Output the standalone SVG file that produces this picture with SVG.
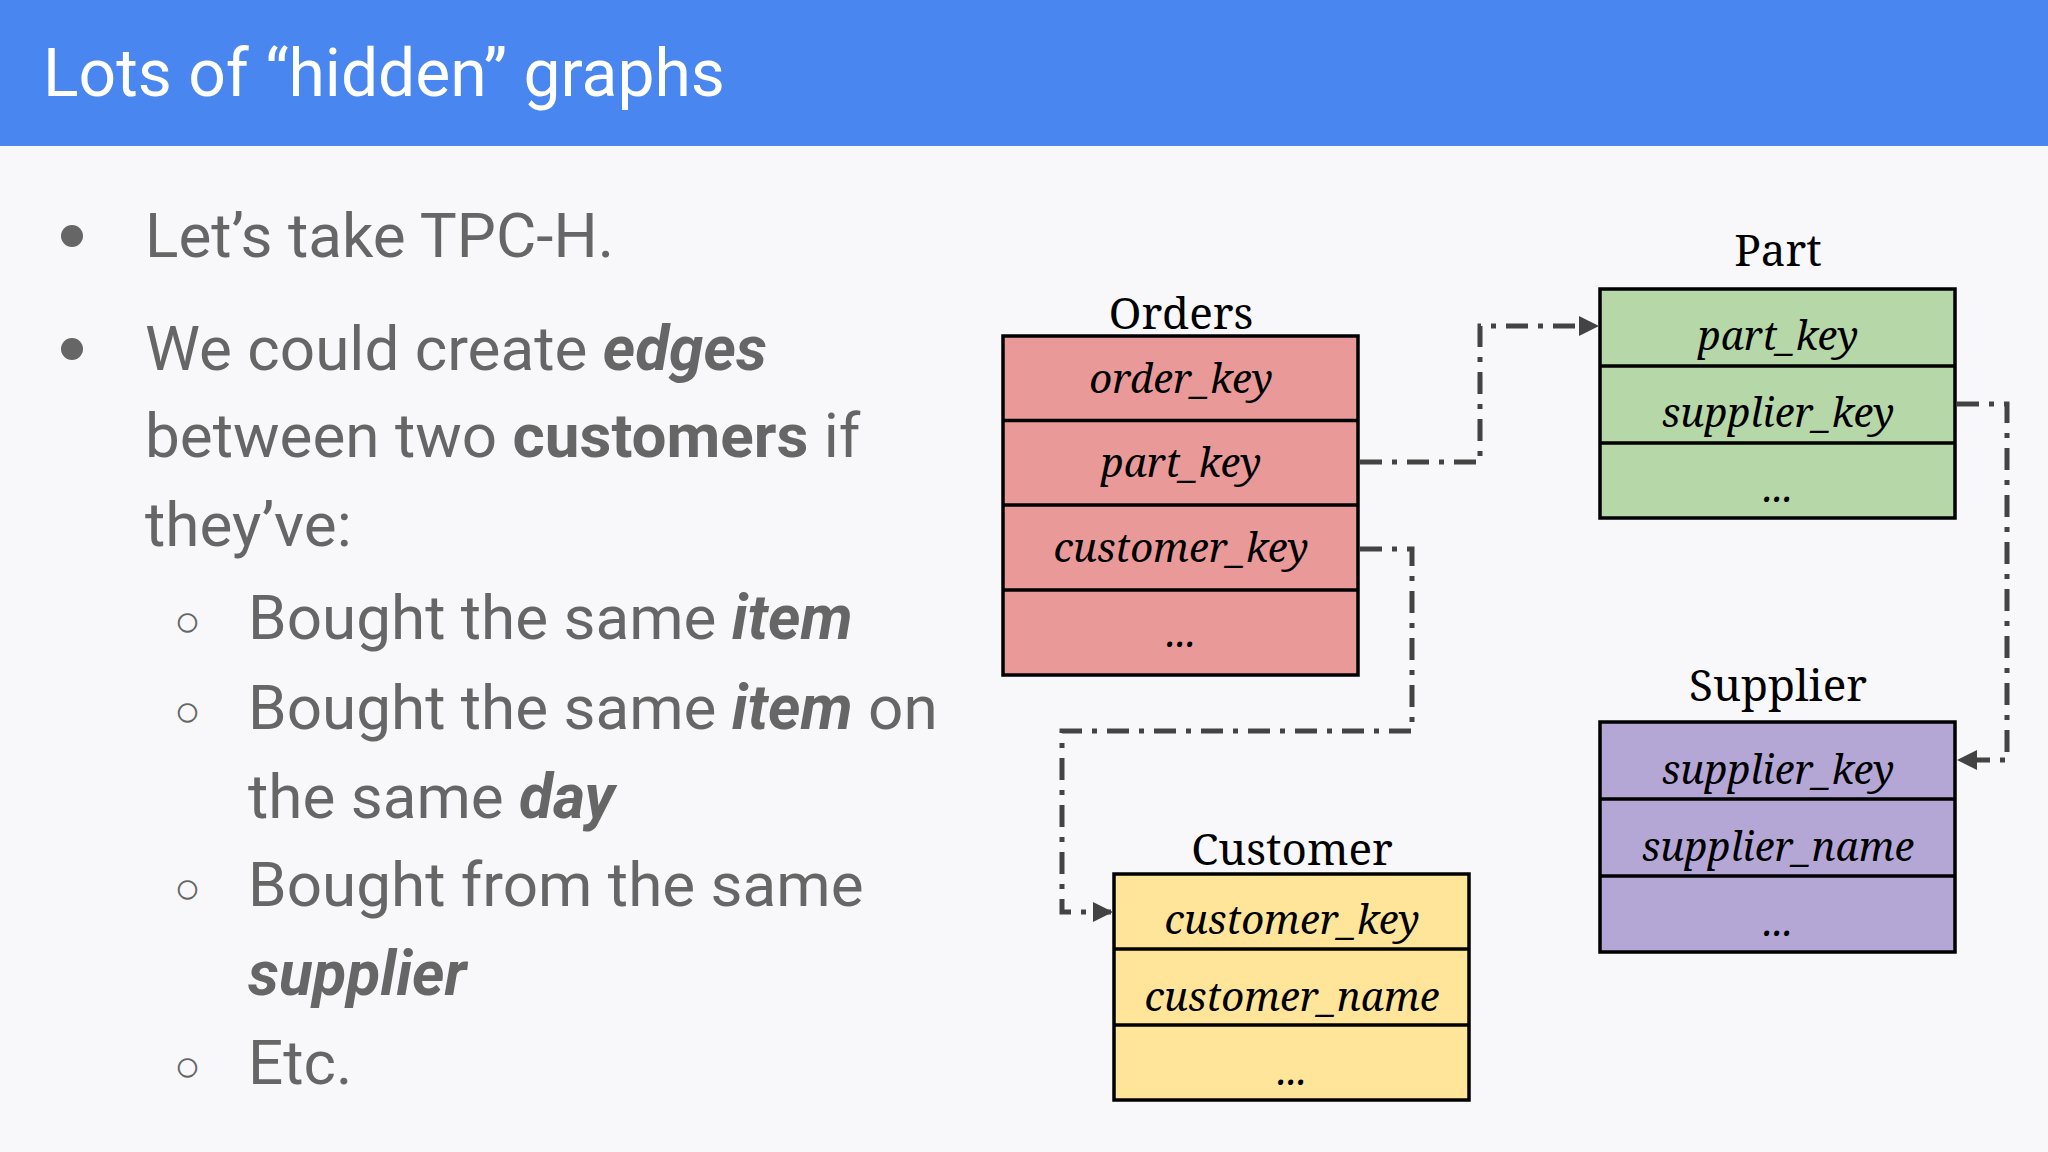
<svg xmlns="http://www.w3.org/2000/svg" width="2048" height="1152" viewBox="0 0 2048 1152">
<defs>
<marker id="ah" viewBox="0 0 10 10" refX="9" refY="5" markerWidth="4" markerHeight="4" orient="auto" markerUnits="strokeWidth"><path d="M0,0 L10,5 L0,10 z" fill="#434343"/></marker>
</defs>
<style>
.b{font-family:Roboto,"Liberation Sans",sans-serif;font-size:62px;fill:#666}
.bb{font-weight:bold}
.bi{font-weight:bold;font-style:italic}
.t{font-family:"Noto Serif","DejaVu Serif","Liberation Serif",serif;font-size:44px;fill:#000;text-anchor:middle}
.c{font-family:"Noto Serif","DejaVu Serif","Liberation Serif",serif;font-style:italic;font-size:40px;fill:#000;text-anchor:middle}
.r{stroke:#000;stroke-width:3.5}
.e{fill:none;stroke:#434343;stroke-width:5;stroke-dasharray:22 10 5 10;marker-end:url(#ah)}
</style>
<rect width="2048" height="1152" fill="#f8f8fa"/>
<rect width="2048" height="146" fill="#4a86f0"/>
<text x="43" y="96" font-family="Roboto,'Liberation Sans',sans-serif" font-size="66" fill="#fff">Lots of “hidden” graphs</text>
<g class="b">
<circle cx="72" cy="236" r="11" fill="#666"/>
<text x="145" y="257">Let’s take TPC-H.</text>
<circle cx="72" cy="349" r="11" fill="#666"/>
<text x="145" y="370">We could create <tspan class="bi">edges</tspan></text>
<text x="145" y="457">between two <tspan class="bb">customers</tspan> if</text>
<text x="145" y="546">they’ve:</text>
<text x="174" y="636" font-size="44">○</text>
<text x="248" y="639">Bought the same <tspan class="bi">item</tspan></text>
<text x="174" y="726" font-size="44">○</text>
<text x="248" y="729">Bought the same <tspan class="bi">item</tspan> on</text>
<text x="248" y="818">the same <tspan class="bi">day</tspan></text>
<text x="174" y="903" font-size="44">○</text>
<text x="248" y="906">Bought from the same</text>
<text x="248" y="995" class="bi">supplier</text>
<text x="174" y="1081" font-size="44">○</text>
<text x="248" y="1084">Etc.</text>
</g>
<g id="orders">
<text class="t" x="1181" y="329">Orders</text>
<rect class="r" x="1003" y="336" width="355" height="339" fill="#ea9999"/>
<path class="r" d="M1003 420.5H1358M1003 505H1358M1003 590H1358"/>
<text class="c" x="1181" y="393">order_key</text>
<text class="c" x="1181" y="477">part_key</text>
<text class="c" x="1181" y="562">customer_key</text>
<text class="c" x="1181" y="647">...</text>
</g>
<g id="part">
<text class="t" x="1778" y="266">Part</text>
<rect class="r" x="1600" y="289" width="355" height="229" fill="#b6d7a8"/>
<path class="r" d="M1600 366H1955M1600 443H1955"/>
<text class="c" x="1778" y="350">part_key</text>
<text class="c" x="1778" y="427">supplier_key</text>
<text class="c" x="1778" y="502">...</text>
</g>
<g id="supplier">
<text class="t" x="1778" y="701">Supplier</text>
<rect class="r" x="1600" y="722" width="355" height="230" fill="#b4a7d6"/>
<path class="r" d="M1600 799H1955M1600 876H1955"/>
<text class="c" x="1778" y="784">supplier_key</text>
<text class="c" x="1778" y="861">supplier_name</text>
<text class="c" x="1778" y="936">...</text>
</g>
<g id="customer">
<text class="t" x="1292" y="865">Customer</text>
<rect class="r" x="1114" y="874" width="355" height="226" fill="#ffe599"/>
<path class="r" d="M1114 949H1469M1114 1025H1469"/>
<text class="c" x="1292" y="934">customer_key</text>
<text class="c" x="1292" y="1011">customer_name</text>
<text class="c" x="1292" y="1085">...</text>
</g>
<g id="connectors">
<path class="e" d="M1360 462H1480V326H1597"/>
<path class="e" d="M1360 549H1412V731H1062V912H1111"/>
<path class="e" d="M1957 404H2007V760H1959"/>
</g>
</svg>
